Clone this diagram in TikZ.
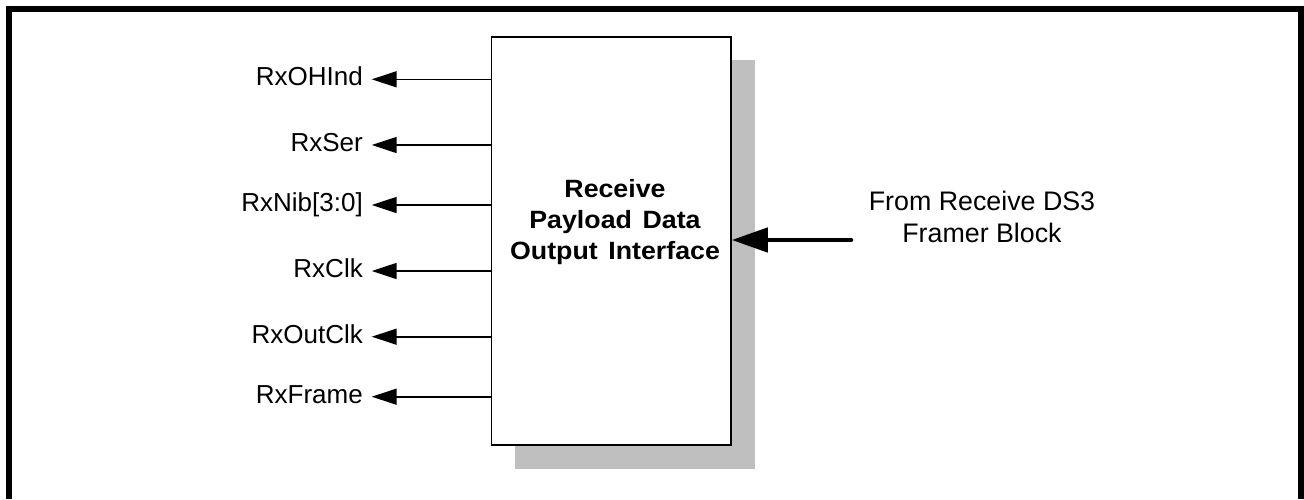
\documentclass[tikz,border=0pt]{standalone}
\usepackage{fontspec}
\setmainfont{Liberation Sans}
\usetikzlibrary{arrows.meta}
\begin{document}
\begin{tikzpicture}[x=1pt,y=-1pt,
  sig/.style={font=\fontsize{26}{31}\selectfont, inner sep=0pt, anchor=base east},
  outarrow/.style={line width=1.6pt, -{Triangle[length=25pt,width=16pt]}},
  inarrow/.style={line width=4.5pt, line cap=round, -{Triangle[length=36pt,width=24pt]}},
  blockbox/.style={draw, line width=1.5pt, fill=white, minimum width=239.5pt, minimum height=408pt, inner sep=0pt},
  shadowbox/.style={fill=black!25, draw=none, minimum width=240pt, minimum height=409pt, inner sep=0pt},
  frameline/.style={line width=6pt, line join=miter}
]
\useasboundingbox (0,0) rectangle (1304,499);
% outer frame (open at the bottom)
\draw[frameline] (9,499) -- (9,9) -- (1301,9) -- (1301,499);
% shadow and block
\node[shadowbox] (shadow) at (635,264.5) {};
\node[blockbox] (box) at (611.25,241) {};
\node[font=\bfseries\fontsize{25}{30.7}\selectfont, align=center, inner sep=0pt] (title) at (615,222)
  {\scalebox{1.07}[1]{Receive}\\\scalebox{1.07}[1]{Payload\hspace{3pt} Data}\\\scalebox{1.07}[1]{Output\hspace{3pt} Interface}};
% output signals
\foreach \nm/\txt/\yy in {a/RxOHInd/79.3, b/RxSer/145, c/RxNib[3:0]/205, d/RxClk/271, e/RxOutClk/336.7, f/RxFrame/396.7}{
  \coordinate (tip\nm) at (371.7,\yy);
  \node[sig] (lab\nm) at (363,\yy+6.5) {\txt};
  \draw[outarrow] (box.west |- tip\nm) -- (tip\nm);
}
% input arrow
\node[font=\fontsize{26.8}{32}\selectfont, align=center, inner sep=0pt, anchor=base] (src) at (982,242.3)
  {From Receive DS3\\Framer Block};
\coordinate (tail) at (851,240);
\draw[inarrow] (tail) -- (box.east |- tail);
\end{tikzpicture}
\end{document}
